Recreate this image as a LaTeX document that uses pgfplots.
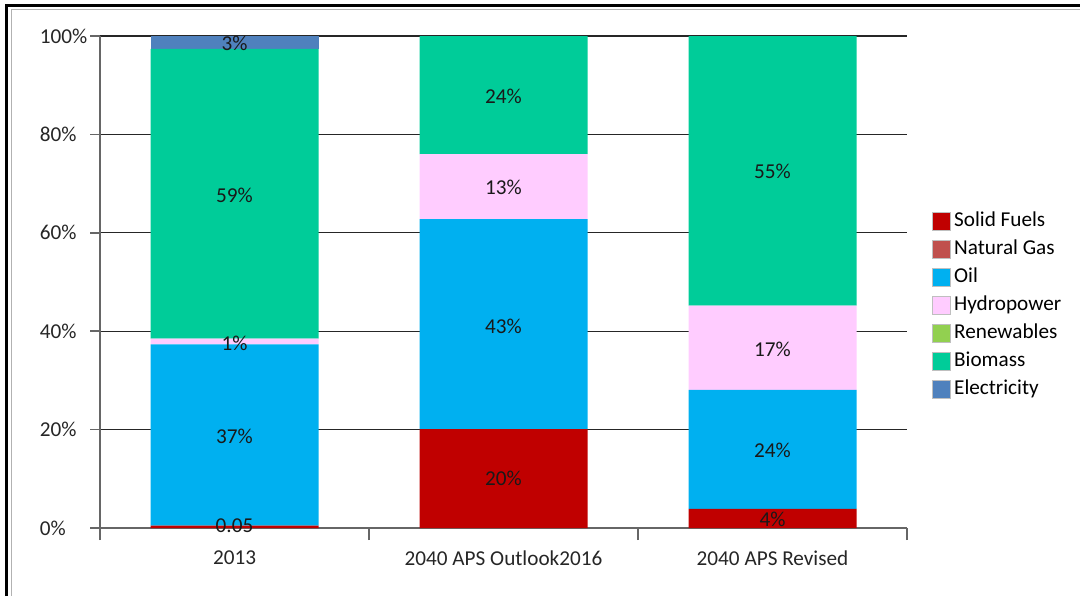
\documentclass[border=0pt]{standalone}
\usepackage{pgfplots}
\pgfplotsset{compat=1.18}
\usepackage{fontspec}
\setmainfont{Carlito}
\definecolor{cSolid}{HTML}{C00000}
\definecolor{cGas}{HTML}{C0504D}
\definecolor{cOil}{HTML}{00B0F0}
\definecolor{cHydro}{HTML}{FFCCFF}
\definecolor{cRen}{HTML}{92D050}
\definecolor{cBio}{HTML}{00CC99}
\definecolor{cElec}{HTML}{4F81BD}
\newcommand{\lblfont}{\fontsize{10.6}{12.7}\selectfont}
\pgfplotsset{sqlegend/.style={legend image code/.code={\filldraw[##1, draw=black!25, line width=0.4pt] (0pt,-4.6pt) rectangle (9.2pt,4.6pt);}}}
\pgfplotstableread{
x y lbl
0 0.4 0.05
0 18.7 37\%
0 37.6 1\%
0 67.7 59\%
0 98.6 3\%
1 10 20\%
1 41 43\%
1 69.3 13\%
1 87.8 24\%
2 1.8 4\%
2 15.7 24\%
2 36.4 17\%
2 72.4 55\%
}\labels
\begin{document}
\begin{tikzpicture}
\path[use as bounding box] (0pt,0pt) rectangle (540pt,298pt);
\fill[white] (0pt,0pt) rectangle (540pt,298pt);
\draw[black, line width=1.5pt] (3.25pt,0pt) -- (3.25pt,295.25pt) -- (540pt,295.25pt);
\draw[black!30, line width=0.5pt] (5.5pt,0pt) -- (5.5pt,293pt) -- (540pt,293pt);
\begin{axis}[
  at={(50pt,34pt)}, anchor=south west,
  scale only axis, width=403.5pt, height=246pt,
  ybar stacked, bar width=84pt,
  xmin=-0.5, xmax=2.5, ymin=0, ymax=100,
  axis x line*=bottom, axis y line*=left,
  axis line style={black!60, line width=0.8pt},
  tick align=outside,
  xtick={0,1,2},
  xticklabels={2013, 2040 APS Outlook2016, 2040 APS Revised},
  minor xtick={-0.5,0.5,1.5,2.5},
  major x tick style={draw=none},
  minor x tick style={black!60, line width=0.8pt},
  minor tick length=6pt,
  xticklabel style={yshift=-3pt},
  ytick={0,20,40,60,80,100},
  yticklabels={\makebox[23pt][l]{0\%},\makebox[23pt][l]{20\%},\makebox[23pt][l]{40\%},\makebox[23pt][l]{60\%},\makebox[23pt][l]{80\%},\makebox[23pt][l]{100\%}},
  major y tick style={black!60, line width=0.8pt},
  major tick length=5pt,
  yticklabel style={xshift=1.5pt},
  ymajorgrids,
  major grid style={black!85, line width=0.6pt},
  tick label style={font=\lblfont, text=black!85},
  legend cell align=left,
  legend style={draw=none, fill=none, at={(1.023,0.658)}, anchor=north west,
    font=\lblfont, row sep=1.5pt,
    nodes={text height=7.5pt, text depth=2pt, inner sep=1.5pt}},
  sqlegend,
]
\addplot[fill=cSolid, draw=none] coordinates {(0,0.5) (1,20.1) (2,3.9)};
\addplot[fill=cGas, draw=none] coordinates {(0,0) (1,0) (2,0)};
\addplot[fill=cOil, draw=none] coordinates {(0,36.8) (1,42.7) (2,24.2)};
\addplot[fill=cHydro, draw=none] coordinates {(0,1.2) (1,13.2) (2,17.1)};
\addplot[fill=cRen, draw=none] coordinates {(0,0) (1,0) (2,0)};
\addplot[fill=cBio, draw=none] coordinates {(0,58.9) (1,24.0) (2,54.8)};
\addplot[fill=cElec, draw=none] coordinates {(0,2.6) (1,0) (2,0)};
\legend{Solid Fuels, Natural Gas, Oil, Hydropower, Renewables, Biomass, Electricity}
\end{axis}
\begin{axis}[
  at={(50pt,34pt)}, anchor=south west,
  scale only axis, width=403.5pt, height=246pt,
  xmin=-0.5, xmax=2.5, ymin=0, ymax=100,
  hide axis, clip=false,
]
\addplot[only marks, mark=none, nodes near coords, point meta=explicit symbolic,
  every node near coord/.style={anchor=center, font=\lblfont, text=black!90}]
  table[x=x, y=y, meta=lbl] {\labels};
\end{axis}
\end{tikzpicture}
\end{document}
